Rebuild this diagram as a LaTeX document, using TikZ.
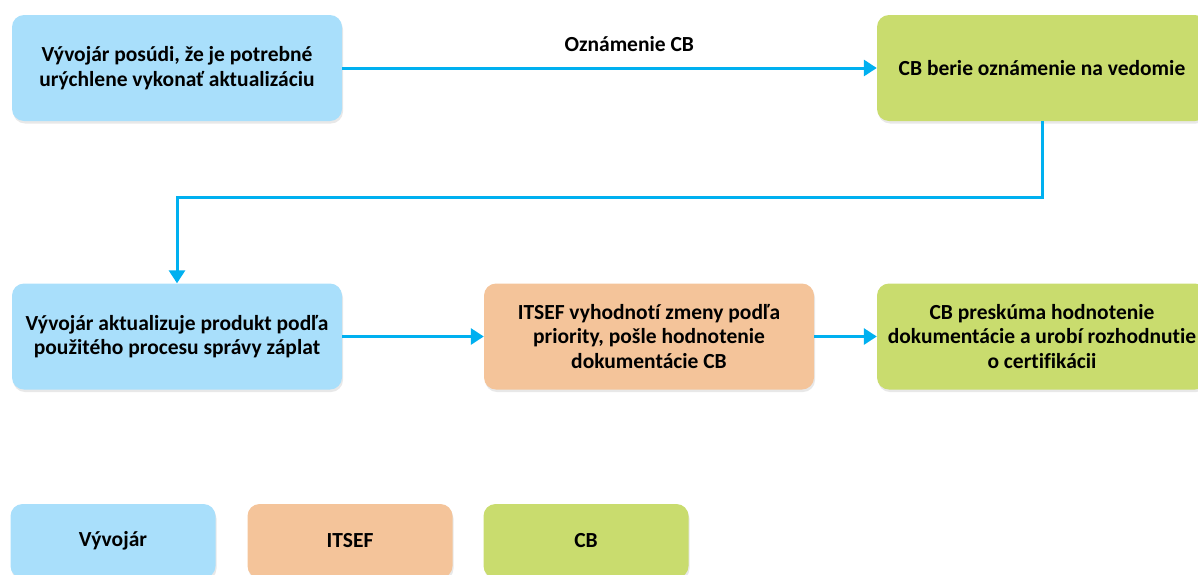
\documentclass[tikz,border=0pt]{standalone}
\usepackage{fontspec}
\setmainfont{Carlito}[Ligatures=NoCommon]
\usetikzlibrary{arrows.meta,positioning,shadows}
\definecolor{devblue}{HTML}{A9DFFB}
\definecolor{itsefor}{HTML}{F4C49A}
\definecolor{cbgreen}{HTML}{C9DC6E}
\definecolor{flow}{HTML}{00B0F0}

\begin{document}
\begin{tikzpicture}[x=1pt, y=-1pt, >={Triangle[width=16pt,length=13pt]},
  box/.style={rounded corners=12pt, minimum width=330pt, minimum height=106pt,
    align=center, inner sep=4pt, font=\bfseries\fontsize{21.5}{24.5}\selectfont,
    drop shadow={opacity=0.18, shadow xshift=1pt, shadow yshift=-2.5pt}},
  dev/.style={box, fill=devblue},
  itsef/.style={box, fill=itsefor},
  cb/.style={box, fill=cbgreen},
  legend/.style={minimum width=205pt, minimum height=74pt},
  flowline/.style={draw=flow, line width=3pt, ->}]

  \useasboundingbox (0,0) rectangle (1198,574);

  % process steps
  \node[dev] (devcheck) at (177,68) {Vývojár posúdi, že je potrebné\\urýchlene vykonať aktualizáciu};
  \node[cb] (cbnote) at (1042,68) {CB berie oznámenie na vedomie};
  \node[dev] (devupd) at (177,336.5) {Vývojár aktualizuje produkt podľa\\použitého procesu správy záplat};
  \node[itsef] (itsefeval) at (649,336.5) {ITSEF vyhodnotí zmeny podľa\\priority, pošle hodnotenie\\dokumentácie CB};
  \node[cb] (cbdecide) at (1042,336.5) {CB preskúma hodnotenie\\dokumentácie a urobí rozhodnutie\\o certifikácii};

  % legend
  \node[dev, legend] (legdev) at (113,541) {Vývojár};
  \node[itsef, legend] (legitsef) at (350,541) {ITSEF};
  \node[cb, legend] (legcb) at (586,541) {CB};

  % connectors
  \draw[flowline] (devcheck) -- node[above=12pt, text=black, font=\bfseries\fontsize{21.5}{24.5}\selectfont, pos=0.537] {Oznámenie CB} (cbnote);
  \draw[flowline] (cbnote.south) -- ++(0,76) -| (devupd.north);
  \draw[flowline] (devupd) -- (itsefeval);
  \draw[flowline] (itsefeval) -- (cbdecide);
\end{tikzpicture}
\end{document}
